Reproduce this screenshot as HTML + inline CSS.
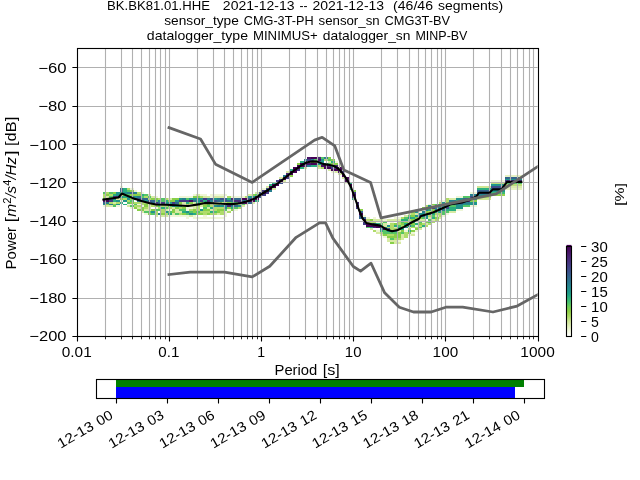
<!DOCTYPE html>
<html><head><meta charset="utf-8"><title>PPSD BK.BK81.01.HHE</title>
<style>html,body{margin:0;padding:0;background:#fff;}body{width:640px;height:480px;overflow:hidden;position:relative;}svg text{font-family:"Liberation Sans",sans-serif;fill:#000;}</style></head>
<body>
<svg width="640" height="480" viewBox="0 0 640 480" style="position:absolute;left:0;top:0;display:block">
<defs><clipPath id="axc"><rect x="76.8" y="48" width="460.8" height="288"/></clipPath>
<linearGradient id="cb" x1="0" y1="1" x2="0" y2="0"><stop offset="0" stop-color="#ffffff"/><stop offset="0.05" stop-color="#f6fae6"/><stop offset="0.1" stop-color="#e6f2c4"/><stop offset="0.17" stop-color="#cfe695"/><stop offset="0.22" stop-color="#aedb68"/><stop offset="0.28" stop-color="#8fd044"/><stop offset="0.33" stop-color="#6ece58"/><stop offset="0.38" stop-color="#4ac16d"/><stop offset="0.42" stop-color="#31b57b"/><stop offset="0.46" stop-color="#21a585"/><stop offset="0.5" stop-color="#1f968b"/><stop offset="0.55" stop-color="#23888e"/><stop offset="0.6" stop-color="#2a788e"/><stop offset="0.67" stop-color="#33638d"/><stop offset="0.72" stop-color="#3b528b"/><stop offset="0.78" stop-color="#424086"/><stop offset="0.83" stop-color="#46327e"/><stop offset="0.9" stop-color="#481f70"/><stop offset="0.95" stop-color="#471063"/><stop offset="1" stop-color="#440154"/></linearGradient></defs>
<rect width="640" height="480" fill="#ffffff"/>
<g shape-rendering="crispEdges">
<rect x="102.5" y="197.76" width="3.47" height="1.92" fill="#54c567"/>
<rect x="102.5" y="199.68" width="3.47" height="1.92" fill="#471265"/>
<rect x="102.5" y="203.52" width="3.47" height="1.92" fill="#20948b"/>
<rect x="102.5" y="201.6" width="3.47" height="1.92" fill="#31688d"/>
<rect x="102.5" y="192" width="3.47" height="1.92" fill="#54c567"/>
<rect x="102.5" y="195.84" width="3.47" height="1.92" fill="#b0dc6a"/>
<rect x="102.5" y="193.92" width="3.47" height="1.92" fill="#b0dc6a"/>
<rect x="102.5" y="205.44" width="3.47" height="1.92" fill="#eff6d7"/>
<rect x="105.97" y="197.76" width="3.47" height="1.92" fill="#31688d"/>
<rect x="105.97" y="199.68" width="3.47" height="1.92" fill="#440154"/>
<rect x="105.97" y="203.52" width="3.47" height="1.92" fill="#88d048"/>
<rect x="105.97" y="193.92" width="3.47" height="1.92" fill="#88d048"/>
<rect x="105.97" y="205.44" width="3.47" height="1.92" fill="#d7eaa4"/>
<rect x="105.97" y="201.6" width="3.47" height="1.92" fill="#277e8e"/>
<rect x="105.97" y="192" width="3.47" height="1.92" fill="#b0dc6a"/>
<rect x="105.97" y="195.84" width="3.47" height="1.92" fill="#d7eaa4"/>
<rect x="109.44" y="195.84" width="3.47" height="1.92" fill="#54c567"/>
<rect x="109.44" y="197.76" width="3.47" height="1.92" fill="#31688d"/>
<rect x="109.44" y="199.68" width="3.47" height="1.92" fill="#433b83"/>
<rect x="109.44" y="203.52" width="3.47" height="1.92" fill="#277e8e"/>
<rect x="109.44" y="193.92" width="3.47" height="1.92" fill="#b0dc6a"/>
<rect x="109.44" y="205.44" width="3.47" height="1.92" fill="#d7eaa4"/>
<rect x="109.44" y="201.6" width="3.47" height="1.92" fill="#b0dc6a"/>
<rect x="109.44" y="192" width="3.47" height="1.92" fill="#54c567"/>
<rect x="112.9" y="192" width="3.47" height="1.92" fill="#88d048"/>
<rect x="112.9" y="197.76" width="3.47" height="1.92" fill="#20948b"/>
<rect x="112.9" y="195.84" width="3.47" height="1.92" fill="#472876"/>
<rect x="112.9" y="193.92" width="3.47" height="1.92" fill="#2aae7f"/>
<rect x="112.9" y="203.52" width="3.47" height="1.92" fill="#88d048"/>
<rect x="112.9" y="201.6" width="3.47" height="1.92" fill="#d7eaa4"/>
<rect x="112.9" y="199.68" width="3.47" height="1.92" fill="#2aae7f"/>
<rect x="112.9" y="205.44" width="3.47" height="1.92" fill="#54c567"/>
<rect x="116.37" y="192" width="3.47" height="1.92" fill="#20948b"/>
<rect x="116.37" y="195.84" width="3.47" height="1.92" fill="#472876"/>
<rect x="116.37" y="197.76" width="3.47" height="1.92" fill="#d7eaa4"/>
<rect x="116.37" y="203.52" width="3.47" height="1.92" fill="#20948b"/>
<rect x="116.37" y="193.92" width="3.47" height="1.92" fill="#20948b"/>
<rect x="116.37" y="205.44" width="3.47" height="1.92" fill="#eff6d7"/>
<rect x="116.37" y="199.68" width="3.47" height="1.92" fill="#20948b"/>
<rect x="116.37" y="201.6" width="3.47" height="1.92" fill="#b0dc6a"/>
<rect x="119.84" y="188.16" width="3.47" height="1.92" fill="#31688d"/>
<rect x="119.84" y="195.84" width="3.47" height="1.92" fill="#20948b"/>
<rect x="119.84" y="193.92" width="3.47" height="1.92" fill="#b0dc6a"/>
<rect x="119.84" y="190.08" width="3.47" height="1.92" fill="#31688d"/>
<rect x="119.84" y="197.76" width="3.47" height="1.92" fill="#88d048"/>
<rect x="119.84" y="192" width="3.47" height="1.92" fill="#2aae7f"/>
<rect x="119.84" y="201.6" width="3.47" height="1.92" fill="#2aae7f"/>
<rect x="119.84" y="199.68" width="3.47" height="1.92" fill="#eff6d7"/>
<rect x="119.84" y="186.24" width="3.47" height="1.92" fill="#eff6d7"/>
<rect x="123.31" y="190.08" width="3.47" height="1.92" fill="#2aae7f"/>
<rect x="123.31" y="195.84" width="3.47" height="1.92" fill="#2aae7f"/>
<rect x="123.31" y="192" width="3.47" height="1.92" fill="#20948b"/>
<rect x="123.31" y="188.16" width="3.47" height="1.92" fill="#2aae7f"/>
<rect x="123.31" y="193.92" width="3.47" height="1.92" fill="#54c567"/>
<rect x="123.31" y="203.52" width="3.47" height="1.92" fill="#2aae7f"/>
<rect x="123.31" y="199.68" width="3.47" height="1.92" fill="#20948b"/>
<rect x="123.31" y="197.76" width="3.47" height="1.92" fill="#b0dc6a"/>
<rect x="126.78" y="192" width="3.47" height="1.92" fill="#277e8e"/>
<rect x="126.78" y="190.08" width="3.47" height="1.92" fill="#54c567"/>
<rect x="126.78" y="197.76" width="3.47" height="1.92" fill="#20948b"/>
<rect x="126.78" y="193.92" width="3.47" height="1.92" fill="#54c567"/>
<rect x="126.78" y="188.16" width="3.47" height="1.92" fill="#b0dc6a"/>
<rect x="126.78" y="195.84" width="3.47" height="1.92" fill="#20948b"/>
<rect x="126.78" y="201.6" width="3.47" height="1.92" fill="#54c567"/>
<rect x="126.78" y="199.68" width="3.47" height="1.92" fill="#b0dc6a"/>
<rect x="126.78" y="205.44" width="3.47" height="1.92" fill="#d7eaa4"/>
<rect x="126.78" y="203.52" width="3.47" height="1.92" fill="#eff6d7"/>
<rect x="130.24" y="192" width="3.47" height="1.92" fill="#31688d"/>
<rect x="130.24" y="195.84" width="3.47" height="1.92" fill="#277e8e"/>
<rect x="130.24" y="190.08" width="3.47" height="1.92" fill="#88d048"/>
<rect x="130.24" y="193.92" width="3.47" height="1.92" fill="#88d048"/>
<rect x="130.24" y="201.6" width="3.47" height="1.92" fill="#88d048"/>
<rect x="130.24" y="205.44" width="3.47" height="1.92" fill="#54c567"/>
<rect x="130.24" y="199.68" width="3.47" height="1.92" fill="#54c567"/>
<rect x="130.24" y="207.36" width="3.47" height="1.92" fill="#eff6d7"/>
<rect x="130.24" y="188.16" width="3.47" height="1.92" fill="#eff6d7"/>
<rect x="130.24" y="197.76" width="3.47" height="1.92" fill="#88d048"/>
<rect x="130.24" y="203.52" width="3.47" height="1.92" fill="#eff6d7"/>
<rect x="133.71" y="195.84" width="3.47" height="1.92" fill="#20948b"/>
<rect x="133.71" y="192" width="3.47" height="1.92" fill="#277e8e"/>
<rect x="133.71" y="205.44" width="3.47" height="1.92" fill="#b0dc6a"/>
<rect x="133.71" y="190.08" width="3.47" height="1.92" fill="#eff6d7"/>
<rect x="133.71" y="197.76" width="3.47" height="1.92" fill="#433b83"/>
<rect x="133.71" y="201.6" width="3.47" height="1.92" fill="#b0dc6a"/>
<rect x="133.71" y="207.36" width="3.47" height="1.92" fill="#88d048"/>
<rect x="133.71" y="203.52" width="3.47" height="1.92" fill="#54c567"/>
<rect x="133.71" y="193.92" width="3.47" height="1.92" fill="#88d048"/>
<rect x="137.18" y="195.84" width="3.47" height="1.92" fill="#277e8e"/>
<rect x="137.18" y="197.76" width="3.47" height="1.92" fill="#3c518b"/>
<rect x="137.18" y="201.6" width="3.47" height="1.92" fill="#b0dc6a"/>
<rect x="137.18" y="193.92" width="3.47" height="1.92" fill="#88d048"/>
<rect x="137.18" y="205.44" width="3.47" height="1.92" fill="#b0dc6a"/>
<rect x="137.18" y="199.68" width="3.47" height="1.92" fill="#277e8e"/>
<rect x="137.18" y="209.28" width="3.47" height="1.92" fill="#88d048"/>
<rect x="137.18" y="207.36" width="3.47" height="1.92" fill="#d7eaa4"/>
<rect x="137.18" y="192" width="3.47" height="1.92" fill="#b0dc6a"/>
<rect x="137.18" y="203.52" width="3.47" height="1.92" fill="#eff6d7"/>
<rect x="140.65" y="197.76" width="3.47" height="1.92" fill="#31688d"/>
<rect x="140.65" y="201.6" width="3.47" height="1.92" fill="#b0dc6a"/>
<rect x="140.65" y="209.28" width="3.47" height="1.92" fill="#88d048"/>
<rect x="140.65" y="193.92" width="3.47" height="1.92" fill="#2aae7f"/>
<rect x="140.65" y="195.84" width="3.47" height="1.92" fill="#54c567"/>
<rect x="140.65" y="199.68" width="3.47" height="1.92" fill="#277e8e"/>
<rect x="140.65" y="207.36" width="3.47" height="1.92" fill="#88d048"/>
<rect x="140.65" y="211.2" width="3.47" height="1.92" fill="#d7eaa4"/>
<rect x="140.65" y="205.44" width="3.47" height="1.92" fill="#eff6d7"/>
<rect x="140.65" y="203.52" width="3.47" height="1.92" fill="#b0dc6a"/>
<rect x="140.65" y="192" width="3.47" height="1.92" fill="#eff6d7"/>
<rect x="144.12" y="199.68" width="3.47" height="1.92" fill="#20948b"/>
<rect x="144.12" y="205.44" width="3.47" height="1.92" fill="#88d048"/>
<rect x="144.12" y="197.76" width="3.47" height="1.92" fill="#31688d"/>
<rect x="144.12" y="193.92" width="3.47" height="1.92" fill="#54c567"/>
<rect x="144.12" y="203.52" width="3.47" height="1.92" fill="#88d048"/>
<rect x="144.12" y="211.2" width="3.47" height="1.92" fill="#54c567"/>
<rect x="144.12" y="207.36" width="3.47" height="1.92" fill="#b0dc6a"/>
<rect x="144.12" y="213.12" width="3.47" height="1.92" fill="#eff6d7"/>
<rect x="144.12" y="209.28" width="3.47" height="1.92" fill="#d7eaa4"/>
<rect x="144.12" y="195.84" width="3.47" height="1.92" fill="#b0dc6a"/>
<rect x="144.12" y="201.6" width="3.47" height="1.92" fill="#b0dc6a"/>
<rect x="147.58" y="201.6" width="3.47" height="1.92" fill="#31688d"/>
<rect x="147.58" y="213.12" width="3.47" height="1.92" fill="#88d048"/>
<rect x="147.58" y="199.68" width="3.47" height="1.92" fill="#3c518b"/>
<rect x="147.58" y="193.92" width="3.47" height="1.92" fill="#d7eaa4"/>
<rect x="147.58" y="197.76" width="3.47" height="1.92" fill="#b0dc6a"/>
<rect x="147.58" y="211.2" width="3.47" height="1.92" fill="#54c567"/>
<rect x="147.58" y="203.52" width="3.47" height="1.92" fill="#d7eaa4"/>
<rect x="147.58" y="205.44" width="3.47" height="1.92" fill="#d7eaa4"/>
<rect x="147.58" y="207.36" width="3.47" height="1.92" fill="#d7eaa4"/>
<rect x="147.58" y="195.84" width="3.47" height="1.92" fill="#54c567"/>
<rect x="147.58" y="209.28" width="3.47" height="1.92" fill="#d7eaa4"/>
<rect x="151.05" y="201.6" width="3.47" height="1.92" fill="#31688d"/>
<rect x="151.05" y="211.2" width="3.47" height="1.92" fill="#20948b"/>
<rect x="151.05" y="213.12" width="3.47" height="1.92" fill="#54c567"/>
<rect x="151.05" y="197.76" width="3.47" height="1.92" fill="#88d048"/>
<rect x="151.05" y="203.52" width="3.47" height="1.92" fill="#b0dc6a"/>
<rect x="151.05" y="209.28" width="3.47" height="1.92" fill="#88d048"/>
<rect x="151.05" y="199.68" width="3.47" height="1.92" fill="#31688d"/>
<rect x="151.05" y="195.84" width="3.47" height="1.92" fill="#d7eaa4"/>
<rect x="151.05" y="205.44" width="3.47" height="1.92" fill="#b0dc6a"/>
<rect x="154.52" y="201.6" width="3.47" height="1.92" fill="#433b83"/>
<rect x="154.52" y="211.2" width="3.47" height="1.92" fill="#b0dc6a"/>
<rect x="154.52" y="215.04" width="3.47" height="1.92" fill="#d7eaa4"/>
<rect x="154.52" y="203.52" width="3.47" height="1.92" fill="#20948b"/>
<rect x="154.52" y="199.68" width="3.47" height="1.92" fill="#54c567"/>
<rect x="154.52" y="209.28" width="3.47" height="1.92" fill="#54c567"/>
<rect x="154.52" y="213.12" width="3.47" height="1.92" fill="#b0dc6a"/>
<rect x="154.52" y="205.44" width="3.47" height="1.92" fill="#88d048"/>
<rect x="154.52" y="195.84" width="3.47" height="1.92" fill="#eff6d7"/>
<rect x="154.52" y="207.36" width="3.47" height="1.92" fill="#eff6d7"/>
<rect x="154.52" y="197.76" width="3.47" height="1.92" fill="#88d048"/>
<rect x="157.99" y="203.52" width="3.47" height="1.92" fill="#54c567"/>
<rect x="157.99" y="213.12" width="3.47" height="1.92" fill="#277e8e"/>
<rect x="157.99" y="201.6" width="3.47" height="1.92" fill="#31688d"/>
<rect x="157.99" y="209.28" width="3.47" height="1.92" fill="#54c567"/>
<rect x="157.99" y="207.36" width="3.47" height="1.92" fill="#b0dc6a"/>
<rect x="157.99" y="199.68" width="3.47" height="1.92" fill="#277e8e"/>
<rect x="157.99" y="205.44" width="3.47" height="1.92" fill="#54c567"/>
<rect x="157.99" y="197.76" width="3.47" height="1.92" fill="#b0dc6a"/>
<rect x="161.46" y="203.52" width="3.47" height="1.92" fill="#88d048"/>
<rect x="161.46" y="213.12" width="3.47" height="1.92" fill="#88d048"/>
<rect x="161.46" y="201.6" width="3.47" height="1.92" fill="#433b83"/>
<rect x="161.46" y="209.28" width="3.47" height="1.92" fill="#b0dc6a"/>
<rect x="161.46" y="215.04" width="3.47" height="1.92" fill="#d7eaa4"/>
<rect x="161.46" y="207.36" width="3.47" height="1.92" fill="#2aae7f"/>
<rect x="161.46" y="199.68" width="3.47" height="1.92" fill="#54c567"/>
<rect x="161.46" y="197.76" width="3.47" height="1.92" fill="#54c567"/>
<rect x="161.46" y="211.2" width="3.47" height="1.92" fill="#b0dc6a"/>
<rect x="161.46" y="205.44" width="3.47" height="1.92" fill="#b0dc6a"/>
<rect x="164.92" y="205.44" width="3.47" height="1.92" fill="#b0dc6a"/>
<rect x="164.92" y="213.12" width="3.47" height="1.92" fill="#b0dc6a"/>
<rect x="164.92" y="211.2" width="3.47" height="1.92" fill="#20948b"/>
<rect x="164.92" y="201.6" width="3.47" height="1.92" fill="#20948b"/>
<rect x="164.92" y="203.52" width="3.47" height="1.92" fill="#277e8e"/>
<rect x="164.92" y="209.28" width="3.47" height="1.92" fill="#d7eaa4"/>
<rect x="164.92" y="215.04" width="3.47" height="1.92" fill="#d7eaa4"/>
<rect x="164.92" y="199.68" width="3.47" height="1.92" fill="#2aae7f"/>
<rect x="164.92" y="207.36" width="3.47" height="1.92" fill="#54c567"/>
<rect x="164.92" y="197.76" width="3.47" height="1.92" fill="#b0dc6a"/>
<rect x="168.39" y="209.28" width="3.47" height="1.92" fill="#eff6d7"/>
<rect x="168.39" y="213.12" width="3.47" height="1.92" fill="#2aae7f"/>
<rect x="168.39" y="205.44" width="3.47" height="1.92" fill="#54c567"/>
<rect x="168.39" y="203.52" width="3.47" height="1.92" fill="#472876"/>
<rect x="168.39" y="211.2" width="3.47" height="1.92" fill="#54c567"/>
<rect x="168.39" y="215.04" width="3.47" height="1.92" fill="#eff6d7"/>
<rect x="168.39" y="201.6" width="3.47" height="1.92" fill="#20948b"/>
<rect x="168.39" y="207.36" width="3.47" height="1.92" fill="#b0dc6a"/>
<rect x="168.39" y="199.68" width="3.47" height="1.92" fill="#88d048"/>
<rect x="168.39" y="197.76" width="3.47" height="1.92" fill="#d7eaa4"/>
<rect x="171.86" y="207.36" width="3.47" height="1.92" fill="#d7eaa4"/>
<rect x="171.86" y="211.2" width="3.47" height="1.92" fill="#88d048"/>
<rect x="171.86" y="209.28" width="3.47" height="1.92" fill="#88d048"/>
<rect x="171.86" y="205.44" width="3.47" height="1.92" fill="#20948b"/>
<rect x="171.86" y="203.52" width="3.47" height="1.92" fill="#20948b"/>
<rect x="171.86" y="213.12" width="3.47" height="1.92" fill="#d7eaa4"/>
<rect x="171.86" y="215.04" width="3.47" height="1.92" fill="#eff6d7"/>
<rect x="171.86" y="201.6" width="3.47" height="1.92" fill="#433b83"/>
<rect x="171.86" y="199.68" width="3.47" height="1.92" fill="#88d048"/>
<rect x="171.86" y="197.76" width="3.47" height="1.92" fill="#88d048"/>
<rect x="175.33" y="205.44" width="3.47" height="1.92" fill="#2aae7f"/>
<rect x="175.33" y="213.12" width="3.47" height="1.92" fill="#54c567"/>
<rect x="175.33" y="211.2" width="3.47" height="1.92" fill="#d7eaa4"/>
<rect x="175.33" y="203.52" width="3.47" height="1.92" fill="#2aae7f"/>
<rect x="175.33" y="215.04" width="3.47" height="1.92" fill="#eff6d7"/>
<rect x="175.33" y="199.68" width="3.47" height="1.92" fill="#20948b"/>
<rect x="175.33" y="209.28" width="3.47" height="1.92" fill="#d7eaa4"/>
<rect x="175.33" y="207.36" width="3.47" height="1.92" fill="#88d048"/>
<rect x="175.33" y="201.6" width="3.47" height="1.92" fill="#31688d"/>
<rect x="175.33" y="197.76" width="3.47" height="1.92" fill="#88d048"/>
<rect x="178.8" y="199.68" width="3.47" height="1.92" fill="#433b83"/>
<rect x="178.8" y="213.12" width="3.47" height="1.92" fill="#b0dc6a"/>
<rect x="178.8" y="203.52" width="3.47" height="1.92" fill="#b0dc6a"/>
<rect x="178.8" y="201.6" width="3.47" height="1.92" fill="#88d048"/>
<rect x="178.8" y="207.36" width="3.47" height="1.92" fill="#b0dc6a"/>
<rect x="178.8" y="215.04" width="3.47" height="1.92" fill="#eff6d7"/>
<rect x="178.8" y="205.44" width="3.47" height="1.92" fill="#2aae7f"/>
<rect x="178.8" y="209.28" width="3.47" height="1.92" fill="#54c567"/>
<rect x="178.8" y="197.76" width="3.47" height="1.92" fill="#20948b"/>
<rect x="178.8" y="211.2" width="3.47" height="1.92" fill="#d7eaa4"/>
<rect x="178.8" y="195.84" width="3.47" height="1.92" fill="#eff6d7"/>
<rect x="182.26" y="199.68" width="3.47" height="1.92" fill="#433b83"/>
<rect x="182.26" y="211.2" width="3.47" height="1.92" fill="#2aae7f"/>
<rect x="182.26" y="209.28" width="3.47" height="1.92" fill="#54c567"/>
<rect x="182.26" y="205.44" width="3.47" height="1.92" fill="#b0dc6a"/>
<rect x="182.26" y="215.04" width="3.47" height="1.92" fill="#eff6d7"/>
<rect x="182.26" y="213.12" width="3.47" height="1.92" fill="#88d048"/>
<rect x="182.26" y="203.52" width="3.47" height="1.92" fill="#eff6d7"/>
<rect x="182.26" y="197.76" width="3.47" height="1.92" fill="#277e8e"/>
<rect x="182.26" y="201.6" width="3.47" height="1.92" fill="#d7eaa4"/>
<rect x="182.26" y="207.36" width="3.47" height="1.92" fill="#88d048"/>
<rect x="182.26" y="195.84" width="3.47" height="1.92" fill="#eff6d7"/>
<rect x="185.73" y="201.6" width="3.47" height="1.92" fill="#2aae7f"/>
<rect x="185.73" y="215.04" width="3.47" height="1.92" fill="#eff6d7"/>
<rect x="185.73" y="203.52" width="3.47" height="1.92" fill="#b0dc6a"/>
<rect x="185.73" y="199.68" width="3.47" height="1.92" fill="#433b83"/>
<rect x="185.73" y="205.44" width="3.47" height="1.92" fill="#88d048"/>
<rect x="185.73" y="216.96" width="3.47" height="1.92" fill="#eff6d7"/>
<rect x="185.73" y="213.12" width="3.47" height="1.92" fill="#54c567"/>
<rect x="185.73" y="211.2" width="3.47" height="1.92" fill="#20948b"/>
<rect x="185.73" y="197.76" width="3.47" height="1.92" fill="#54c567"/>
<rect x="185.73" y="195.84" width="3.47" height="1.92" fill="#eff6d7"/>
<rect x="185.73" y="209.28" width="3.47" height="1.92" fill="#eff6d7"/>
<rect x="185.73" y="207.36" width="3.47" height="1.92" fill="#eff6d7"/>
<rect x="189.2" y="201.6" width="3.47" height="1.92" fill="#88d048"/>
<rect x="189.2" y="215.04" width="3.47" height="1.92" fill="#d7eaa4"/>
<rect x="189.2" y="199.68" width="3.47" height="1.92" fill="#471265"/>
<rect x="189.2" y="203.52" width="3.47" height="1.92" fill="#eff6d7"/>
<rect x="189.2" y="213.12" width="3.47" height="1.92" fill="#20948b"/>
<rect x="189.2" y="211.2" width="3.47" height="1.92" fill="#54c567"/>
<rect x="189.2" y="205.44" width="3.47" height="1.92" fill="#d7eaa4"/>
<rect x="189.2" y="197.76" width="3.47" height="1.92" fill="#20948b"/>
<rect x="189.2" y="209.28" width="3.47" height="1.92" fill="#b0dc6a"/>
<rect x="189.2" y="195.84" width="3.47" height="1.92" fill="#eff6d7"/>
<rect x="189.2" y="207.36" width="3.47" height="1.92" fill="#eff6d7"/>
<rect x="192.67" y="199.68" width="3.47" height="1.92" fill="#31688d"/>
<rect x="192.67" y="215.04" width="3.47" height="1.92" fill="#eff6d7"/>
<rect x="192.67" y="207.36" width="3.47" height="1.92" fill="#d7eaa4"/>
<rect x="192.67" y="205.44" width="3.47" height="1.92" fill="#d7eaa4"/>
<rect x="192.67" y="216.96" width="3.47" height="1.92" fill="#eff6d7"/>
<rect x="192.67" y="213.12" width="3.47" height="1.92" fill="#2aae7f"/>
<rect x="192.67" y="211.2" width="3.47" height="1.92" fill="#88d048"/>
<rect x="192.67" y="203.52" width="3.47" height="1.92" fill="#b0dc6a"/>
<rect x="192.67" y="197.76" width="3.47" height="1.92" fill="#20948b"/>
<rect x="192.67" y="195.84" width="3.47" height="1.92" fill="#88d048"/>
<rect x="192.67" y="201.6" width="3.47" height="1.92" fill="#d7eaa4"/>
<rect x="192.67" y="193.92" width="3.47" height="1.92" fill="#eff6d7"/>
<rect x="192.67" y="209.28" width="3.47" height="1.92" fill="#88d048"/>
<rect x="196.14" y="199.68" width="3.47" height="1.92" fill="#20948b"/>
<rect x="196.14" y="213.12" width="3.47" height="1.92" fill="#88d048"/>
<rect x="196.14" y="201.6" width="3.47" height="1.92" fill="#2aae7f"/>
<rect x="196.14" y="205.44" width="3.47" height="1.92" fill="#b0dc6a"/>
<rect x="196.14" y="216.96" width="3.47" height="1.92" fill="#eff6d7"/>
<rect x="196.14" y="209.28" width="3.47" height="1.92" fill="#b0dc6a"/>
<rect x="196.14" y="203.52" width="3.47" height="1.92" fill="#eff6d7"/>
<rect x="196.14" y="211.2" width="3.47" height="1.92" fill="#54c567"/>
<rect x="196.14" y="193.92" width="3.47" height="1.92" fill="#d7eaa4"/>
<rect x="196.14" y="195.84" width="3.47" height="1.92" fill="#88d048"/>
<rect x="196.14" y="197.76" width="3.47" height="1.92" fill="#20948b"/>
<rect x="196.14" y="207.36" width="3.47" height="1.92" fill="#b0dc6a"/>
<rect x="199.6" y="199.68" width="3.47" height="1.92" fill="#433b83"/>
<rect x="199.6" y="213.12" width="3.47" height="1.92" fill="#88d048"/>
<rect x="199.6" y="203.52" width="3.47" height="1.92" fill="#b0dc6a"/>
<rect x="199.6" y="216.96" width="3.47" height="1.92" fill="#eff6d7"/>
<rect x="199.6" y="209.28" width="3.47" height="1.92" fill="#20948b"/>
<rect x="199.6" y="211.2" width="3.47" height="1.92" fill="#b0dc6a"/>
<rect x="199.6" y="205.44" width="3.47" height="1.92" fill="#d7eaa4"/>
<rect x="199.6" y="197.76" width="3.47" height="1.92" fill="#20948b"/>
<rect x="199.6" y="195.84" width="3.47" height="1.92" fill="#b0dc6a"/>
<rect x="199.6" y="201.6" width="3.47" height="1.92" fill="#88d048"/>
<rect x="199.6" y="193.92" width="3.47" height="1.92" fill="#eff6d7"/>
<rect x="203.07" y="197.76" width="3.47" height="1.92" fill="#433b83"/>
<rect x="203.07" y="213.12" width="3.47" height="1.92" fill="#b0dc6a"/>
<rect x="203.07" y="199.68" width="3.47" height="1.92" fill="#2aae7f"/>
<rect x="203.07" y="216.96" width="3.47" height="1.92" fill="#eff6d7"/>
<rect x="203.07" y="209.28" width="3.47" height="1.92" fill="#88d048"/>
<rect x="203.07" y="211.2" width="3.47" height="1.92" fill="#b0dc6a"/>
<rect x="203.07" y="207.36" width="3.47" height="1.92" fill="#54c567"/>
<rect x="203.07" y="203.52" width="3.47" height="1.92" fill="#b0dc6a"/>
<rect x="203.07" y="201.6" width="3.47" height="1.92" fill="#d7eaa4"/>
<rect x="203.07" y="205.44" width="3.47" height="1.92" fill="#88d048"/>
<rect x="203.07" y="215.04" width="3.47" height="1.92" fill="#eff6d7"/>
<rect x="203.07" y="195.84" width="3.47" height="1.92" fill="#d7eaa4"/>
<rect x="203.07" y="193.92" width="3.47" height="1.92" fill="#eff6d7"/>
<rect x="206.54" y="199.68" width="3.47" height="1.92" fill="#472876"/>
<rect x="206.54" y="213.12" width="3.47" height="1.92" fill="#88d048"/>
<rect x="206.54" y="216.96" width="3.47" height="1.92" fill="#eff6d7"/>
<rect x="206.54" y="207.36" width="3.47" height="1.92" fill="#d7eaa4"/>
<rect x="206.54" y="211.2" width="3.47" height="1.92" fill="#b0dc6a"/>
<rect x="206.54" y="209.28" width="3.47" height="1.92" fill="#88d048"/>
<rect x="206.54" y="203.52" width="3.47" height="1.92" fill="#88d048"/>
<rect x="206.54" y="197.76" width="3.47" height="1.92" fill="#277e8e"/>
<rect x="206.54" y="205.44" width="3.47" height="1.92" fill="#54c567"/>
<rect x="206.54" y="201.6" width="3.47" height="1.92" fill="#eff6d7"/>
<rect x="206.54" y="195.84" width="3.47" height="1.92" fill="#d7eaa4"/>
<rect x="210.01" y="199.68" width="3.47" height="1.92" fill="#277e8e"/>
<rect x="210.01" y="213.12" width="3.47" height="1.92" fill="#b0dc6a"/>
<rect x="210.01" y="197.76" width="3.47" height="1.92" fill="#3c518b"/>
<rect x="210.01" y="216.96" width="3.47" height="1.92" fill="#eff6d7"/>
<rect x="210.01" y="207.36" width="3.47" height="1.92" fill="#2aae7f"/>
<rect x="210.01" y="211.2" width="3.47" height="1.92" fill="#2aae7f"/>
<rect x="210.01" y="203.52" width="3.47" height="1.92" fill="#d7eaa4"/>
<rect x="210.01" y="201.6" width="3.47" height="1.92" fill="#b0dc6a"/>
<rect x="210.01" y="205.44" width="3.47" height="1.92" fill="#b0dc6a"/>
<rect x="210.01" y="195.84" width="3.47" height="1.92" fill="#eff6d7"/>
<rect x="210.01" y="193.92" width="3.47" height="1.92" fill="#eff6d7"/>
<rect x="210.01" y="209.28" width="3.47" height="1.92" fill="#d7eaa4"/>
<rect x="213.48" y="197.76" width="3.47" height="1.92" fill="#20948b"/>
<rect x="213.48" y="213.12" width="3.47" height="1.92" fill="#b0dc6a"/>
<rect x="213.48" y="201.6" width="3.47" height="1.92" fill="#eff6d7"/>
<rect x="213.48" y="195.84" width="3.47" height="1.92" fill="#d7eaa4"/>
<rect x="213.48" y="216.96" width="3.47" height="1.92" fill="#eff6d7"/>
<rect x="213.48" y="199.68" width="3.47" height="1.92" fill="#3c518b"/>
<rect x="213.48" y="207.36" width="3.47" height="1.92" fill="#b0dc6a"/>
<rect x="213.48" y="209.28" width="3.47" height="1.92" fill="#b0dc6a"/>
<rect x="213.48" y="211.2" width="3.47" height="1.92" fill="#54c567"/>
<rect x="213.48" y="203.52" width="3.47" height="1.92" fill="#b0dc6a"/>
<rect x="213.48" y="205.44" width="3.47" height="1.92" fill="#20948b"/>
<rect x="213.48" y="193.92" width="3.47" height="1.92" fill="#eff6d7"/>
<rect x="216.94" y="199.68" width="3.47" height="1.92" fill="#31688d"/>
<rect x="216.94" y="213.12" width="3.47" height="1.92" fill="#d7eaa4"/>
<rect x="216.94" y="201.6" width="3.47" height="1.92" fill="#eff6d7"/>
<rect x="216.94" y="197.76" width="3.47" height="1.92" fill="#277e8e"/>
<rect x="216.94" y="195.84" width="3.47" height="1.92" fill="#d7eaa4"/>
<rect x="216.94" y="216.96" width="3.47" height="1.92" fill="#eff6d7"/>
<rect x="216.94" y="205.44" width="3.47" height="1.92" fill="#277e8e"/>
<rect x="216.94" y="209.28" width="3.47" height="1.92" fill="#88d048"/>
<rect x="216.94" y="207.36" width="3.47" height="1.92" fill="#b0dc6a"/>
<rect x="216.94" y="211.2" width="3.47" height="1.92" fill="#88d048"/>
<rect x="216.94" y="203.52" width="3.47" height="1.92" fill="#b0dc6a"/>
<rect x="216.94" y="193.92" width="3.47" height="1.92" fill="#eff6d7"/>
<rect x="220.41" y="197.76" width="3.47" height="1.92" fill="#3c518b"/>
<rect x="220.41" y="213.12" width="3.47" height="1.92" fill="#b0dc6a"/>
<rect x="220.41" y="201.6" width="3.47" height="1.92" fill="#b0dc6a"/>
<rect x="220.41" y="195.84" width="3.47" height="1.92" fill="#d7eaa4"/>
<rect x="220.41" y="216.96" width="3.47" height="1.92" fill="#eff6d7"/>
<rect x="220.41" y="199.68" width="3.47" height="1.92" fill="#277e8e"/>
<rect x="220.41" y="207.36" width="3.47" height="1.92" fill="#b0dc6a"/>
<rect x="220.41" y="211.2" width="3.47" height="1.92" fill="#b0dc6a"/>
<rect x="220.41" y="209.28" width="3.47" height="1.92" fill="#88d048"/>
<rect x="220.41" y="205.44" width="3.47" height="1.92" fill="#20948b"/>
<rect x="220.41" y="193.92" width="3.47" height="1.92" fill="#eff6d7"/>
<rect x="220.41" y="203.52" width="3.47" height="1.92" fill="#eff6d7"/>
<rect x="223.88" y="197.76" width="3.47" height="1.92" fill="#31688d"/>
<rect x="223.88" y="211.2" width="3.47" height="1.92" fill="#eff6d7"/>
<rect x="223.88" y="201.6" width="3.47" height="1.92" fill="#b0dc6a"/>
<rect x="223.88" y="199.68" width="3.47" height="1.92" fill="#3c518b"/>
<rect x="223.88" y="215.04" width="3.47" height="1.92" fill="#eff6d7"/>
<rect x="223.88" y="205.44" width="3.47" height="1.92" fill="#277e8e"/>
<rect x="223.88" y="209.28" width="3.47" height="1.92" fill="#54c567"/>
<rect x="223.88" y="207.36" width="3.47" height="1.92" fill="#20948b"/>
<rect x="223.88" y="213.12" width="3.47" height="1.92" fill="#eff6d7"/>
<rect x="223.88" y="193.92" width="3.47" height="1.92" fill="#eff6d7"/>
<rect x="227.35" y="199.68" width="3.47" height="1.92" fill="#31688d"/>
<rect x="227.35" y="211.2" width="3.47" height="1.92" fill="#b0dc6a"/>
<rect x="227.35" y="201.6" width="3.47" height="1.92" fill="#88d048"/>
<rect x="227.35" y="195.84" width="3.47" height="1.92" fill="#b0dc6a"/>
<rect x="227.35" y="197.76" width="3.47" height="1.92" fill="#2aae7f"/>
<rect x="227.35" y="205.44" width="3.47" height="1.92" fill="#472876"/>
<rect x="227.35" y="207.36" width="3.47" height="1.92" fill="#88d048"/>
<rect x="227.35" y="203.52" width="3.47" height="1.92" fill="#88d048"/>
<rect x="227.35" y="209.28" width="3.47" height="1.92" fill="#eff6d7"/>
<rect x="230.82" y="197.76" width="3.47" height="1.92" fill="#472876"/>
<rect x="230.82" y="209.28" width="3.47" height="1.92" fill="#88d048"/>
<rect x="230.82" y="201.6" width="3.47" height="1.92" fill="#54c567"/>
<rect x="230.82" y="203.52" width="3.47" height="1.92" fill="#eff6d7"/>
<rect x="230.82" y="199.68" width="3.47" height="1.92" fill="#31688d"/>
<rect x="230.82" y="205.44" width="3.47" height="1.92" fill="#277e8e"/>
<rect x="230.82" y="207.36" width="3.47" height="1.92" fill="#2aae7f"/>
<rect x="230.82" y="195.84" width="3.47" height="1.92" fill="#eff6d7"/>
<rect x="234.28" y="199.68" width="3.47" height="1.92" fill="#472876"/>
<rect x="234.28" y="207.36" width="3.47" height="1.92" fill="#54c567"/>
<rect x="234.28" y="201.6" width="3.47" height="1.92" fill="#54c567"/>
<rect x="234.28" y="197.76" width="3.47" height="1.92" fill="#31688d"/>
<rect x="234.28" y="205.44" width="3.47" height="1.92" fill="#31688d"/>
<rect x="234.28" y="209.28" width="3.47" height="1.92" fill="#eff6d7"/>
<rect x="234.28" y="203.52" width="3.47" height="1.92" fill="#88d048"/>
<rect x="234.28" y="195.84" width="3.47" height="1.92" fill="#eff6d7"/>
<rect x="237.75" y="199.68" width="3.47" height="1.92" fill="#472876"/>
<rect x="237.75" y="207.36" width="3.47" height="1.92" fill="#b0dc6a"/>
<rect x="237.75" y="197.76" width="3.47" height="1.92" fill="#31688d"/>
<rect x="237.75" y="201.6" width="3.47" height="1.92" fill="#472876"/>
<rect x="237.75" y="203.52" width="3.47" height="1.92" fill="#d7eaa4"/>
<rect x="237.75" y="205.44" width="3.47" height="1.92" fill="#20948b"/>
<rect x="237.75" y="195.84" width="3.47" height="1.92" fill="#eff6d7"/>
<rect x="241.22" y="201.6" width="3.47" height="1.92" fill="#471265"/>
<rect x="241.22" y="205.44" width="3.47" height="1.92" fill="#d7eaa4"/>
<rect x="241.22" y="197.76" width="3.47" height="1.92" fill="#440154"/>
<rect x="241.22" y="203.52" width="3.47" height="1.92" fill="#54c567"/>
<rect x="241.22" y="199.68" width="3.47" height="1.92" fill="#31688d"/>
<rect x="241.22" y="195.84" width="3.47" height="1.92" fill="#eff6d7"/>
<rect x="244.69" y="201.6" width="3.47" height="1.92" fill="#440154"/>
<rect x="244.69" y="203.52" width="3.47" height="1.92" fill="#d7eaa4"/>
<rect x="244.69" y="197.76" width="3.47" height="1.92" fill="#440154"/>
<rect x="244.69" y="199.68" width="3.47" height="1.92" fill="#20948b"/>
<rect x="244.69" y="195.84" width="3.47" height="1.92" fill="#b0dc6a"/>
<rect x="248.16" y="201.6" width="3.47" height="1.92" fill="#31688d"/>
<rect x="248.16" y="199.68" width="3.47" height="1.92" fill="#440154"/>
<rect x="248.16" y="197.76" width="3.47" height="1.92" fill="#3c518b"/>
<rect x="248.16" y="195.84" width="3.47" height="1.92" fill="#20948b"/>
<rect x="248.16" y="193.92" width="3.47" height="1.92" fill="#d7eaa4"/>
<rect x="251.62" y="199.68" width="3.47" height="1.92" fill="#440154"/>
<rect x="251.62" y="201.6" width="3.47" height="1.92" fill="#d7eaa4"/>
<rect x="251.62" y="197.76" width="3.47" height="1.92" fill="#440154"/>
<rect x="251.62" y="195.84" width="3.47" height="1.92" fill="#20948b"/>
<rect x="251.62" y="193.92" width="3.47" height="1.92" fill="#88d048"/>
<rect x="255.09" y="199.68" width="3.47" height="1.92" fill="#2aae7f"/>
<rect x="255.09" y="197.76" width="3.47" height="1.92" fill="#440154"/>
<rect x="255.09" y="195.84" width="3.47" height="1.92" fill="#440154"/>
<rect x="255.09" y="192" width="3.47" height="1.92" fill="#d7eaa4"/>
<rect x="255.09" y="193.92" width="3.47" height="1.92" fill="#54c567"/>
<rect x="258.56" y="195.84" width="3.47" height="1.92" fill="#3c518b"/>
<rect x="258.56" y="193.92" width="3.47" height="1.92" fill="#440154"/>
<rect x="258.56" y="192" width="3.47" height="1.92" fill="#3c518b"/>
<rect x="258.56" y="190.08" width="3.47" height="1.92" fill="#eff6d7"/>
<rect x="262.03" y="193.92" width="3.47" height="1.92" fill="#433b83"/>
<rect x="262.03" y="192" width="3.47" height="1.92" fill="#440154"/>
<rect x="262.03" y="190.08" width="3.47" height="1.92" fill="#433b83"/>
<rect x="262.03" y="188.16" width="3.47" height="1.92" fill="#eff6d7"/>
<rect x="265.5" y="192" width="3.47" height="1.92" fill="#433b83"/>
<rect x="265.5" y="190.08" width="3.47" height="1.92" fill="#440154"/>
<rect x="265.5" y="186.24" width="3.47" height="1.92" fill="#d7eaa4"/>
<rect x="265.5" y="188.16" width="3.47" height="1.92" fill="#3c518b"/>
<rect x="268.96" y="190.08" width="3.47" height="1.92" fill="#277e8e"/>
<rect x="268.96" y="188.16" width="3.47" height="1.92" fill="#440154"/>
<rect x="268.96" y="186.24" width="3.47" height="1.92" fill="#440154"/>
<rect x="268.96" y="184.32" width="3.47" height="1.92" fill="#2aae7f"/>
<rect x="272.43" y="188.16" width="3.47" height="1.92" fill="#d7eaa4"/>
<rect x="272.43" y="186.24" width="3.47" height="1.92" fill="#440154"/>
<rect x="272.43" y="184.32" width="3.47" height="1.92" fill="#440154"/>
<rect x="272.43" y="182.4" width="3.47" height="1.92" fill="#2aae7f"/>
<rect x="275.9" y="184.32" width="3.47" height="1.92" fill="#440154"/>
<rect x="275.9" y="182.4" width="3.47" height="1.92" fill="#440154"/>
<rect x="275.9" y="180.48" width="3.47" height="1.92" fill="#433b83"/>
<rect x="279.37" y="182.4" width="3.47" height="1.92" fill="#3c518b"/>
<rect x="279.37" y="180.48" width="3.47" height="1.92" fill="#440154"/>
<rect x="279.37" y="178.56" width="3.47" height="1.92" fill="#433b83"/>
<rect x="279.37" y="176.64" width="3.47" height="1.92" fill="#d7eaa4"/>
<rect x="282.84" y="178.56" width="3.47" height="1.92" fill="#440154"/>
<rect x="282.84" y="180.48" width="3.47" height="1.92" fill="#d7eaa4"/>
<rect x="282.84" y="176.64" width="3.47" height="1.92" fill="#440154"/>
<rect x="282.84" y="174.72" width="3.47" height="1.92" fill="#277e8e"/>
<rect x="286.3" y="176.64" width="3.47" height="1.92" fill="#433b83"/>
<rect x="286.3" y="174.72" width="3.47" height="1.92" fill="#440154"/>
<rect x="286.3" y="172.8" width="3.47" height="1.92" fill="#472876"/>
<rect x="286.3" y="170.88" width="3.47" height="1.92" fill="#d7eaa4"/>
<rect x="289.77" y="172.8" width="3.47" height="1.92" fill="#440154"/>
<rect x="289.77" y="174.72" width="3.47" height="1.92" fill="#88d048"/>
<rect x="289.77" y="170.88" width="3.47" height="1.92" fill="#440154"/>
<rect x="289.77" y="168.96" width="3.47" height="1.92" fill="#2aae7f"/>
<rect x="293.24" y="170.88" width="3.47" height="1.92" fill="#440154"/>
<rect x="293.24" y="168.96" width="3.47" height="1.92" fill="#440154"/>
<rect x="293.24" y="167.04" width="3.47" height="1.92" fill="#440154"/>
<rect x="296.71" y="168.96" width="3.47" height="1.92" fill="#433b83"/>
<rect x="296.71" y="167.04" width="3.47" height="1.92" fill="#440154"/>
<rect x="296.71" y="165.12" width="3.47" height="1.92" fill="#440154"/>
<rect x="296.71" y="163.2" width="3.47" height="1.92" fill="#88d048"/>
<rect x="300.18" y="165.12" width="3.47" height="1.92" fill="#440154"/>
<rect x="300.18" y="167.04" width="3.47" height="1.92" fill="#2aae7f"/>
<rect x="300.18" y="163.2" width="3.47" height="1.92" fill="#440154"/>
<rect x="300.18" y="161.28" width="3.47" height="1.92" fill="#2aae7f"/>
<rect x="303.64" y="163.2" width="3.47" height="1.92" fill="#471265"/>
<rect x="303.64" y="165.12" width="3.47" height="1.92" fill="#472876"/>
<rect x="303.64" y="161.28" width="3.47" height="1.92" fill="#433b83"/>
<rect x="303.64" y="159.36" width="3.47" height="1.92" fill="#277e8e"/>
<rect x="303.64" y="167.04" width="3.47" height="1.92" fill="#d7eaa4"/>
<rect x="307.11" y="159.36" width="3.47" height="1.92" fill="#433b83"/>
<rect x="307.11" y="165.12" width="3.47" height="1.92" fill="#277e8e"/>
<rect x="307.11" y="157.44" width="3.47" height="1.92" fill="#471265"/>
<rect x="307.11" y="163.2" width="3.47" height="1.92" fill="#471265"/>
<rect x="307.11" y="161.28" width="3.47" height="1.92" fill="#eff6d7"/>
<rect x="310.58" y="159.36" width="3.47" height="1.92" fill="#277e8e"/>
<rect x="310.58" y="165.12" width="3.47" height="1.92" fill="#2aae7f"/>
<rect x="310.58" y="157.44" width="3.47" height="1.92" fill="#440154"/>
<rect x="310.58" y="163.2" width="3.47" height="1.92" fill="#440154"/>
<rect x="310.58" y="161.28" width="3.47" height="1.92" fill="#88d048"/>
<rect x="314.05" y="157.44" width="3.47" height="1.92" fill="#440154"/>
<rect x="314.05" y="165.12" width="3.47" height="1.92" fill="#2aae7f"/>
<rect x="314.05" y="161.28" width="3.47" height="1.92" fill="#b0dc6a"/>
<rect x="314.05" y="163.2" width="3.47" height="1.92" fill="#440154"/>
<rect x="314.05" y="159.36" width="3.47" height="1.92" fill="#54c567"/>
<rect x="317.52" y="157.44" width="3.47" height="1.92" fill="#472876"/>
<rect x="317.52" y="163.2" width="3.47" height="1.92" fill="#20948b"/>
<rect x="317.52" y="161.28" width="3.47" height="1.92" fill="#277e8e"/>
<rect x="317.52" y="159.36" width="3.47" height="1.92" fill="#471265"/>
<rect x="317.52" y="167.04" width="3.47" height="1.92" fill="#d7eaa4"/>
<rect x="317.52" y="165.12" width="3.47" height="1.92" fill="#b0dc6a"/>
<rect x="317.52" y="155.52" width="3.47" height="1.92" fill="#eff6d7"/>
<rect x="320.98" y="161.28" width="3.47" height="1.92" fill="#20948b"/>
<rect x="320.98" y="163.2" width="3.47" height="1.92" fill="#433b83"/>
<rect x="320.98" y="159.36" width="3.47" height="1.92" fill="#20948b"/>
<rect x="320.98" y="165.12" width="3.47" height="1.92" fill="#471265"/>
<rect x="320.98" y="167.04" width="3.47" height="1.92" fill="#b0dc6a"/>
<rect x="320.98" y="157.44" width="3.47" height="1.92" fill="#54c567"/>
<rect x="324.45" y="163.2" width="3.47" height="1.92" fill="#2aae7f"/>
<rect x="324.45" y="167.04" width="3.47" height="1.92" fill="#440154"/>
<rect x="324.45" y="157.44" width="3.47" height="1.92" fill="#277e8e"/>
<rect x="324.45" y="159.36" width="3.47" height="1.92" fill="#b0dc6a"/>
<rect x="324.45" y="165.12" width="3.47" height="1.92" fill="#440154"/>
<rect x="327.92" y="165.12" width="3.47" height="1.92" fill="#472876"/>
<rect x="327.92" y="167.04" width="3.47" height="1.92" fill="#440154"/>
<rect x="327.92" y="159.36" width="3.47" height="1.92" fill="#54c567"/>
<rect x="327.92" y="163.2" width="3.47" height="1.92" fill="#54c567"/>
<rect x="327.92" y="168.96" width="3.47" height="1.92" fill="#d7eaa4"/>
<rect x="327.92" y="157.44" width="3.47" height="1.92" fill="#88d048"/>
<rect x="327.92" y="161.28" width="3.47" height="1.92" fill="#d7eaa4"/>
<rect x="331.39" y="165.12" width="3.47" height="1.92" fill="#2aae7f"/>
<rect x="331.39" y="168.96" width="3.47" height="1.92" fill="#440154"/>
<rect x="331.39" y="161.28" width="3.47" height="1.92" fill="#2aae7f"/>
<rect x="331.39" y="163.2" width="3.47" height="1.92" fill="#88d048"/>
<rect x="331.39" y="167.04" width="3.47" height="1.92" fill="#433b83"/>
<rect x="331.39" y="170.88" width="3.47" height="1.92" fill="#eff6d7"/>
<rect x="331.39" y="159.36" width="3.47" height="1.92" fill="#88d048"/>
<rect x="334.86" y="167.04" width="3.47" height="1.92" fill="#433b83"/>
<rect x="334.86" y="168.96" width="3.47" height="1.92" fill="#440154"/>
<rect x="334.86" y="163.2" width="3.47" height="1.92" fill="#88d048"/>
<rect x="334.86" y="165.12" width="3.47" height="1.92" fill="#472876"/>
<rect x="334.86" y="170.88" width="3.47" height="1.92" fill="#d7eaa4"/>
<rect x="334.86" y="161.28" width="3.47" height="1.92" fill="#eff6d7"/>
<rect x="338.32" y="168.96" width="3.47" height="1.92" fill="#440154"/>
<rect x="338.32" y="170.88" width="3.47" height="1.92" fill="#471265"/>
<rect x="338.32" y="167.04" width="3.47" height="1.92" fill="#440154"/>
<rect x="338.32" y="172.8" width="3.47" height="1.92" fill="#d7eaa4"/>
<rect x="338.32" y="165.12" width="3.47" height="1.92" fill="#eff6d7"/>
<rect x="341.79" y="172.8" width="3.47" height="1.92" fill="#440154"/>
<rect x="341.79" y="176.64" width="3.47" height="1.92" fill="#d7eaa4"/>
<rect x="341.79" y="174.72" width="3.47" height="1.92" fill="#440154"/>
<rect x="341.79" y="170.88" width="3.47" height="1.92" fill="#433b83"/>
<rect x="345.26" y="180.48" width="3.47" height="1.92" fill="#440154"/>
<rect x="345.26" y="176.64" width="3.47" height="1.92" fill="#440154"/>
<rect x="345.26" y="178.56" width="3.47" height="1.92" fill="#471265"/>
<rect x="345.26" y="182.4" width="3.47" height="1.92" fill="#eff6d7"/>
<rect x="348.73" y="186.24" width="3.47" height="1.92" fill="#440154"/>
<rect x="348.73" y="188.16" width="3.47" height="1.92" fill="#2aae7f"/>
<rect x="348.73" y="184.32" width="3.47" height="1.92" fill="#440154"/>
<rect x="348.73" y="182.4" width="3.47" height="1.92" fill="#2aae7f"/>
<rect x="352.2" y="195.84" width="3.47" height="1.92" fill="#472876"/>
<rect x="352.2" y="193.92" width="3.47" height="1.92" fill="#471265"/>
<rect x="352.2" y="192" width="3.47" height="1.92" fill="#433b83"/>
<rect x="352.2" y="190.08" width="3.47" height="1.92" fill="#88d048"/>
<rect x="352.2" y="197.76" width="3.47" height="1.92" fill="#2aae7f"/>
<rect x="355.66" y="205.44" width="3.47" height="1.92" fill="#471265"/>
<rect x="355.66" y="207.36" width="3.47" height="1.92" fill="#433b83"/>
<rect x="355.66" y="201.6" width="3.47" height="1.92" fill="#472876"/>
<rect x="355.66" y="203.52" width="3.47" height="1.92" fill="#3c518b"/>
<rect x="359.13" y="213.12" width="3.47" height="1.92" fill="#440154"/>
<rect x="359.13" y="215.04" width="3.47" height="1.92" fill="#3c518b"/>
<rect x="359.13" y="211.2" width="3.47" height="1.92" fill="#31688d"/>
<rect x="359.13" y="216.96" width="3.47" height="1.92" fill="#31688d"/>
<rect x="359.13" y="209.28" width="3.47" height="1.92" fill="#88d048"/>
<rect x="362.6" y="220.8" width="3.47" height="1.92" fill="#433b83"/>
<rect x="362.6" y="222.72" width="3.47" height="1.92" fill="#433b83"/>
<rect x="362.6" y="216.96" width="3.47" height="1.92" fill="#31688d"/>
<rect x="362.6" y="218.88" width="3.47" height="1.92" fill="#440154"/>
<rect x="362.6" y="215.04" width="3.47" height="1.92" fill="#eff6d7"/>
<rect x="366.07" y="222.72" width="3.47" height="1.92" fill="#440154"/>
<rect x="366.07" y="226.56" width="3.47" height="1.92" fill="#54c567"/>
<rect x="366.07" y="224.64" width="3.47" height="1.92" fill="#440154"/>
<rect x="366.07" y="218.88" width="3.47" height="1.92" fill="#b0dc6a"/>
<rect x="366.07" y="220.8" width="3.47" height="1.92" fill="#b0dc6a"/>
<rect x="366.07" y="216.96" width="3.47" height="1.92" fill="#eff6d7"/>
<rect x="369.54" y="224.64" width="3.47" height="1.92" fill="#440154"/>
<rect x="369.54" y="226.56" width="3.47" height="1.92" fill="#20948b"/>
<rect x="369.54" y="218.88" width="3.47" height="1.92" fill="#88d048"/>
<rect x="369.54" y="222.72" width="3.47" height="1.92" fill="#31688d"/>
<rect x="369.54" y="228.48" width="3.47" height="1.92" fill="#d7eaa4"/>
<rect x="369.54" y="220.8" width="3.47" height="1.92" fill="#b0dc6a"/>
<rect x="373" y="224.64" width="3.47" height="1.92" fill="#440154"/>
<rect x="373" y="226.56" width="3.47" height="1.92" fill="#472876"/>
<rect x="373" y="218.88" width="3.47" height="1.92" fill="#d7eaa4"/>
<rect x="373" y="222.72" width="3.47" height="1.92" fill="#277e8e"/>
<rect x="373" y="230.4" width="3.47" height="1.92" fill="#b0dc6a"/>
<rect x="373" y="216.96" width="3.47" height="1.92" fill="#eff6d7"/>
<rect x="373" y="220.8" width="3.47" height="1.92" fill="#b0dc6a"/>
<rect x="376.47" y="224.64" width="3.47" height="1.92" fill="#440154"/>
<rect x="376.47" y="226.56" width="3.47" height="1.92" fill="#440154"/>
<rect x="376.47" y="218.88" width="3.47" height="1.92" fill="#d7eaa4"/>
<rect x="376.47" y="232.32" width="3.47" height="1.92" fill="#d7eaa4"/>
<rect x="376.47" y="222.72" width="3.47" height="1.92" fill="#2aae7f"/>
<rect x="376.47" y="220.8" width="3.47" height="1.92" fill="#eff6d7"/>
<rect x="376.47" y="230.4" width="3.47" height="1.92" fill="#eff6d7"/>
<rect x="379.94" y="222.72" width="3.47" height="1.92" fill="#54c567"/>
<rect x="379.94" y="226.56" width="3.47" height="1.92" fill="#472876"/>
<rect x="379.94" y="228.48" width="3.47" height="1.92" fill="#277e8e"/>
<rect x="379.94" y="220.8" width="3.47" height="1.92" fill="#d7eaa4"/>
<rect x="379.94" y="224.64" width="3.47" height="1.92" fill="#2aae7f"/>
<rect x="379.94" y="234.24" width="3.47" height="1.92" fill="#d7eaa4"/>
<rect x="379.94" y="230.4" width="3.47" height="1.92" fill="#2aae7f"/>
<rect x="379.94" y="218.88" width="3.47" height="1.92" fill="#d7eaa4"/>
<rect x="379.94" y="232.32" width="3.47" height="1.92" fill="#b0dc6a"/>
<rect x="383.41" y="222.72" width="3.47" height="1.92" fill="#d7eaa4"/>
<rect x="383.41" y="228.48" width="3.47" height="1.92" fill="#440154"/>
<rect x="383.41" y="226.56" width="3.47" height="1.92" fill="#20948b"/>
<rect x="383.41" y="218.88" width="3.47" height="1.92" fill="#eff6d7"/>
<rect x="383.41" y="230.4" width="3.47" height="1.92" fill="#54c567"/>
<rect x="383.41" y="232.32" width="3.47" height="1.92" fill="#54c567"/>
<rect x="383.41" y="236.16" width="3.47" height="1.92" fill="#eff6d7"/>
<rect x="383.41" y="224.64" width="3.47" height="1.92" fill="#d7eaa4"/>
<rect x="383.41" y="220.8" width="3.47" height="1.92" fill="#54c567"/>
<rect x="383.41" y="234.24" width="3.47" height="1.92" fill="#88d048"/>
<rect x="386.88" y="224.64" width="3.47" height="1.92" fill="#20948b"/>
<rect x="386.88" y="230.4" width="3.47" height="1.92" fill="#20948b"/>
<rect x="386.88" y="218.88" width="3.47" height="1.92" fill="#d7eaa4"/>
<rect x="386.88" y="226.56" width="3.47" height="1.92" fill="#b0dc6a"/>
<rect x="386.88" y="228.48" width="3.47" height="1.92" fill="#3c518b"/>
<rect x="386.88" y="240" width="3.47" height="1.92" fill="#d7eaa4"/>
<rect x="386.88" y="234.24" width="3.47" height="1.92" fill="#b0dc6a"/>
<rect x="386.88" y="236.16" width="3.47" height="1.92" fill="#88d048"/>
<rect x="386.88" y="232.32" width="3.47" height="1.92" fill="#54c567"/>
<rect x="386.88" y="238.08" width="3.47" height="1.92" fill="#d7eaa4"/>
<rect x="386.88" y="222.72" width="3.47" height="1.92" fill="#eff6d7"/>
<rect x="390.34" y="222.72" width="3.47" height="1.92" fill="#b0dc6a"/>
<rect x="390.34" y="232.32" width="3.47" height="1.92" fill="#54c567"/>
<rect x="390.34" y="224.64" width="3.47" height="1.92" fill="#b0dc6a"/>
<rect x="390.34" y="218.88" width="3.47" height="1.92" fill="#d7eaa4"/>
<rect x="390.34" y="230.4" width="3.47" height="1.92" fill="#277e8e"/>
<rect x="390.34" y="238.08" width="3.47" height="1.92" fill="#54c567"/>
<rect x="390.34" y="241.92" width="3.47" height="1.92" fill="#88d048"/>
<rect x="390.34" y="220.8" width="3.47" height="1.92" fill="#eff6d7"/>
<rect x="390.34" y="236.16" width="3.47" height="1.92" fill="#88d048"/>
<rect x="390.34" y="226.56" width="3.47" height="1.92" fill="#b0dc6a"/>
<rect x="390.34" y="234.24" width="3.47" height="1.92" fill="#b0dc6a"/>
<rect x="390.34" y="240" width="3.47" height="1.92" fill="#d7eaa4"/>
<rect x="390.34" y="228.48" width="3.47" height="1.92" fill="#b0dc6a"/>
<rect x="393.81" y="218.88" width="3.47" height="1.92" fill="#d7eaa4"/>
<rect x="393.81" y="224.64" width="3.47" height="1.92" fill="#2aae7f"/>
<rect x="393.81" y="234.24" width="3.47" height="1.92" fill="#88d048"/>
<rect x="393.81" y="216.96" width="3.47" height="1.92" fill="#eff6d7"/>
<rect x="393.81" y="232.32" width="3.47" height="1.92" fill="#54c567"/>
<rect x="393.81" y="222.72" width="3.47" height="1.92" fill="#88d048"/>
<rect x="393.81" y="230.4" width="3.47" height="1.92" fill="#277e8e"/>
<rect x="393.81" y="228.48" width="3.47" height="1.92" fill="#b0dc6a"/>
<rect x="393.81" y="238.08" width="3.47" height="1.92" fill="#b0dc6a"/>
<rect x="393.81" y="236.16" width="3.47" height="1.92" fill="#88d048"/>
<rect x="393.81" y="226.56" width="3.47" height="1.92" fill="#d7eaa4"/>
<rect x="393.81" y="241.92" width="3.47" height="1.92" fill="#d7eaa4"/>
<rect x="393.81" y="240" width="3.47" height="1.92" fill="#d7eaa4"/>
<rect x="397.28" y="220.8" width="3.47" height="1.92" fill="#b0dc6a"/>
<rect x="397.28" y="224.64" width="3.47" height="1.92" fill="#54c567"/>
<rect x="397.28" y="228.48" width="3.47" height="1.92" fill="#2aae7f"/>
<rect x="397.28" y="222.72" width="3.47" height="1.92" fill="#b0dc6a"/>
<rect x="397.28" y="218.88" width="3.47" height="1.92" fill="#d7eaa4"/>
<rect x="397.28" y="238.08" width="3.47" height="1.92" fill="#b0dc6a"/>
<rect x="397.28" y="226.56" width="3.47" height="1.92" fill="#2aae7f"/>
<rect x="397.28" y="236.16" width="3.47" height="1.92" fill="#88d048"/>
<rect x="397.28" y="232.32" width="3.47" height="1.92" fill="#88d048"/>
<rect x="397.28" y="216.96" width="3.47" height="1.92" fill="#eff6d7"/>
<rect x="397.28" y="234.24" width="3.47" height="1.92" fill="#88d048"/>
<rect x="397.28" y="241.92" width="3.47" height="1.92" fill="#d7eaa4"/>
<rect x="397.28" y="240" width="3.47" height="1.92" fill="#eff6d7"/>
<rect x="397.28" y="230.4" width="3.47" height="1.92" fill="#d7eaa4"/>
<rect x="400.75" y="220.8" width="3.47" height="1.92" fill="#54c567"/>
<rect x="400.75" y="218.88" width="3.47" height="1.92" fill="#2aae7f"/>
<rect x="400.75" y="226.56" width="3.47" height="1.92" fill="#88d048"/>
<rect x="400.75" y="230.4" width="3.47" height="1.92" fill="#88d048"/>
<rect x="400.75" y="216.96" width="3.47" height="1.92" fill="#b0dc6a"/>
<rect x="400.75" y="228.48" width="3.47" height="1.92" fill="#2aae7f"/>
<rect x="400.75" y="224.64" width="3.47" height="1.92" fill="#b0dc6a"/>
<rect x="400.75" y="232.32" width="3.47" height="1.92" fill="#54c567"/>
<rect x="400.75" y="222.72" width="3.47" height="1.92" fill="#88d048"/>
<rect x="400.75" y="238.08" width="3.47" height="1.92" fill="#d7eaa4"/>
<rect x="400.75" y="234.24" width="3.47" height="1.92" fill="#d7eaa4"/>
<rect x="400.75" y="236.16" width="3.47" height="1.92" fill="#d7eaa4"/>
<rect x="404.22" y="216.96" width="3.47" height="1.92" fill="#54c567"/>
<rect x="404.22" y="222.72" width="3.47" height="1.92" fill="#2aae7f"/>
<rect x="404.22" y="220.8" width="3.47" height="1.92" fill="#88d048"/>
<rect x="404.22" y="224.64" width="3.47" height="1.92" fill="#54c567"/>
<rect x="404.22" y="215.04" width="3.47" height="1.92" fill="#d7eaa4"/>
<rect x="404.22" y="226.56" width="3.47" height="1.92" fill="#277e8e"/>
<rect x="404.22" y="218.88" width="3.47" height="1.92" fill="#2aae7f"/>
<rect x="404.22" y="232.32" width="3.47" height="1.92" fill="#b0dc6a"/>
<rect x="404.22" y="230.4" width="3.47" height="1.92" fill="#eff6d7"/>
<rect x="404.22" y="236.16" width="3.47" height="1.92" fill="#b0dc6a"/>
<rect x="404.22" y="234.24" width="3.47" height="1.92" fill="#b0dc6a"/>
<rect x="407.68" y="215.04" width="3.47" height="1.92" fill="#54c567"/>
<rect x="407.68" y="224.64" width="3.47" height="1.92" fill="#277e8e"/>
<rect x="407.68" y="213.12" width="3.47" height="1.92" fill="#d7eaa4"/>
<rect x="407.68" y="228.48" width="3.47" height="1.92" fill="#b0dc6a"/>
<rect x="407.68" y="216.96" width="3.47" height="1.92" fill="#20948b"/>
<rect x="407.68" y="218.88" width="3.47" height="1.92" fill="#b0dc6a"/>
<rect x="407.68" y="226.56" width="3.47" height="1.92" fill="#d7eaa4"/>
<rect x="407.68" y="234.24" width="3.47" height="1.92" fill="#eff6d7"/>
<rect x="407.68" y="230.4" width="3.47" height="1.92" fill="#2aae7f"/>
<rect x="407.68" y="220.8" width="3.47" height="1.92" fill="#d7eaa4"/>
<rect x="407.68" y="232.32" width="3.47" height="1.92" fill="#88d048"/>
<rect x="407.68" y="222.72" width="3.47" height="1.92" fill="#b0dc6a"/>
<rect x="411.15" y="216.96" width="3.47" height="1.92" fill="#2aae7f"/>
<rect x="411.15" y="215.04" width="3.47" height="1.92" fill="#88d048"/>
<rect x="411.15" y="224.64" width="3.47" height="1.92" fill="#54c567"/>
<rect x="411.15" y="226.56" width="3.47" height="1.92" fill="#b0dc6a"/>
<rect x="411.15" y="213.12" width="3.47" height="1.92" fill="#b0dc6a"/>
<rect x="411.15" y="220.8" width="3.47" height="1.92" fill="#2aae7f"/>
<rect x="411.15" y="218.88" width="3.47" height="1.92" fill="#88d048"/>
<rect x="411.15" y="222.72" width="3.47" height="1.92" fill="#88d048"/>
<rect x="411.15" y="232.32" width="3.47" height="1.92" fill="#eff6d7"/>
<rect x="411.15" y="230.4" width="3.47" height="1.92" fill="#88d048"/>
<rect x="411.15" y="234.24" width="3.47" height="1.92" fill="#d7eaa4"/>
<rect x="411.15" y="211.2" width="3.47" height="1.92" fill="#88d048"/>
<rect x="414.62" y="215.04" width="3.47" height="1.92" fill="#20948b"/>
<rect x="414.62" y="211.2" width="3.47" height="1.92" fill="#20948b"/>
<rect x="414.62" y="218.88" width="3.47" height="1.92" fill="#31688d"/>
<rect x="414.62" y="222.72" width="3.47" height="1.92" fill="#2aae7f"/>
<rect x="414.62" y="213.12" width="3.47" height="1.92" fill="#d7eaa4"/>
<rect x="414.62" y="216.96" width="3.47" height="1.92" fill="#88d048"/>
<rect x="414.62" y="228.48" width="3.47" height="1.92" fill="#88d048"/>
<rect x="414.62" y="226.56" width="3.47" height="1.92" fill="#b0dc6a"/>
<rect x="414.62" y="220.8" width="3.47" height="1.92" fill="#eff6d7"/>
<rect x="414.62" y="209.28" width="3.47" height="1.92" fill="#eff6d7"/>
<rect x="414.62" y="230.4" width="3.47" height="1.92" fill="#eff6d7"/>
<rect x="414.62" y="224.64" width="3.47" height="1.92" fill="#eff6d7"/>
<rect x="418.09" y="220.8" width="3.47" height="1.92" fill="#54c567"/>
<rect x="418.09" y="213.12" width="3.47" height="1.92" fill="#20948b"/>
<rect x="418.09" y="226.56" width="3.47" height="1.92" fill="#54c567"/>
<rect x="418.09" y="224.64" width="3.47" height="1.92" fill="#b0dc6a"/>
<rect x="418.09" y="222.72" width="3.47" height="1.92" fill="#88d048"/>
<rect x="418.09" y="215.04" width="3.47" height="1.92" fill="#31688d"/>
<rect x="418.09" y="216.96" width="3.47" height="1.92" fill="#88d048"/>
<rect x="418.09" y="228.48" width="3.47" height="1.92" fill="#d7eaa4"/>
<rect x="418.09" y="211.2" width="3.47" height="1.92" fill="#eff6d7"/>
<rect x="418.09" y="218.88" width="3.47" height="1.92" fill="#d7eaa4"/>
<rect x="418.09" y="209.28" width="3.47" height="1.92" fill="#88d048"/>
<rect x="421.56" y="215.04" width="3.47" height="1.92" fill="#277e8e"/>
<rect x="421.56" y="220.8" width="3.47" height="1.92" fill="#eff6d7"/>
<rect x="421.56" y="224.64" width="3.47" height="1.92" fill="#2aae7f"/>
<rect x="421.56" y="213.12" width="3.47" height="1.92" fill="#20948b"/>
<rect x="421.56" y="216.96" width="3.47" height="1.92" fill="#54c567"/>
<rect x="421.56" y="211.2" width="3.47" height="1.92" fill="#277e8e"/>
<rect x="421.56" y="209.28" width="3.47" height="1.92" fill="#eff6d7"/>
<rect x="421.56" y="226.56" width="3.47" height="1.92" fill="#eff6d7"/>
<rect x="421.56" y="222.72" width="3.47" height="1.92" fill="#b0dc6a"/>
<rect x="421.56" y="218.88" width="3.47" height="1.92" fill="#d7eaa4"/>
<rect x="421.56" y="207.36" width="3.47" height="1.92" fill="#88d048"/>
<rect x="425.02" y="216.96" width="3.47" height="1.92" fill="#20948b"/>
<rect x="425.02" y="209.28" width="3.47" height="1.92" fill="#277e8e"/>
<rect x="425.02" y="224.64" width="3.47" height="1.92" fill="#b0dc6a"/>
<rect x="425.02" y="222.72" width="3.47" height="1.92" fill="#d7eaa4"/>
<rect x="425.02" y="215.04" width="3.47" height="1.92" fill="#20948b"/>
<rect x="425.02" y="213.12" width="3.47" height="1.92" fill="#54c567"/>
<rect x="425.02" y="211.2" width="3.47" height="1.92" fill="#88d048"/>
<rect x="425.02" y="207.36" width="3.47" height="1.92" fill="#b0dc6a"/>
<rect x="425.02" y="220.8" width="3.47" height="1.92" fill="#88d048"/>
<rect x="425.02" y="205.44" width="3.47" height="1.92" fill="#b0dc6a"/>
<rect x="428.49" y="211.2" width="3.47" height="1.92" fill="#b0dc6a"/>
<rect x="428.49" y="222.72" width="3.47" height="1.92" fill="#b0dc6a"/>
<rect x="428.49" y="216.96" width="3.47" height="1.92" fill="#d7eaa4"/>
<rect x="428.49" y="209.28" width="3.47" height="1.92" fill="#2aae7f"/>
<rect x="428.49" y="218.88" width="3.47" height="1.92" fill="#54c567"/>
<rect x="428.49" y="215.04" width="3.47" height="1.92" fill="#b0dc6a"/>
<rect x="428.49" y="205.44" width="3.47" height="1.92" fill="#20948b"/>
<rect x="428.49" y="213.12" width="3.47" height="1.92" fill="#31688d"/>
<rect x="428.49" y="220.8" width="3.47" height="1.92" fill="#54c567"/>
<rect x="428.49" y="207.36" width="3.47" height="1.92" fill="#d7eaa4"/>
<rect x="428.49" y="203.52" width="3.47" height="1.92" fill="#eff6d7"/>
<rect x="431.96" y="216.96" width="3.47" height="1.92" fill="#2aae7f"/>
<rect x="431.96" y="211.2" width="3.47" height="1.92" fill="#b0dc6a"/>
<rect x="431.96" y="220.8" width="3.47" height="1.92" fill="#b0dc6a"/>
<rect x="431.96" y="215.04" width="3.47" height="1.92" fill="#54c567"/>
<rect x="431.96" y="207.36" width="3.47" height="1.92" fill="#433b83"/>
<rect x="431.96" y="218.88" width="3.47" height="1.92" fill="#d7eaa4"/>
<rect x="431.96" y="203.52" width="3.47" height="1.92" fill="#88d048"/>
<rect x="431.96" y="213.12" width="3.47" height="1.92" fill="#2aae7f"/>
<rect x="431.96" y="209.28" width="3.47" height="1.92" fill="#88d048"/>
<rect x="431.96" y="205.44" width="3.47" height="1.92" fill="#d7eaa4"/>
<rect x="435.43" y="211.2" width="3.47" height="1.92" fill="#2aae7f"/>
<rect x="435.43" y="216.96" width="3.47" height="1.92" fill="#88d048"/>
<rect x="435.43" y="218.88" width="3.47" height="1.92" fill="#b0dc6a"/>
<rect x="435.43" y="205.44" width="3.47" height="1.92" fill="#20948b"/>
<rect x="435.43" y="213.12" width="3.47" height="1.92" fill="#b0dc6a"/>
<rect x="435.43" y="203.52" width="3.47" height="1.92" fill="#54c567"/>
<rect x="435.43" y="207.36" width="3.47" height="1.92" fill="#277e8e"/>
<rect x="435.43" y="209.28" width="3.47" height="1.92" fill="#277e8e"/>
<rect x="435.43" y="215.04" width="3.47" height="1.92" fill="#d7eaa4"/>
<rect x="438.9" y="215.04" width="3.47" height="1.92" fill="#b0dc6a"/>
<rect x="438.9" y="211.2" width="3.47" height="1.92" fill="#20948b"/>
<rect x="438.9" y="216.96" width="3.47" height="1.92" fill="#d7eaa4"/>
<rect x="438.9" y="209.28" width="3.47" height="1.92" fill="#20948b"/>
<rect x="438.9" y="205.44" width="3.47" height="1.92" fill="#2aae7f"/>
<rect x="438.9" y="201.6" width="3.47" height="1.92" fill="#b0dc6a"/>
<rect x="438.9" y="207.36" width="3.47" height="1.92" fill="#20948b"/>
<rect x="438.9" y="203.52" width="3.47" height="1.92" fill="#20948b"/>
<rect x="438.9" y="213.12" width="3.47" height="1.92" fill="#b0dc6a"/>
<rect x="438.9" y="199.68" width="3.47" height="1.92" fill="#eff6d7"/>
<rect x="442.36" y="213.12" width="3.47" height="1.92" fill="#54c567"/>
<rect x="442.36" y="209.28" width="3.47" height="1.92" fill="#277e8e"/>
<rect x="442.36" y="215.04" width="3.47" height="1.92" fill="#eff6d7"/>
<rect x="442.36" y="207.36" width="3.47" height="1.92" fill="#2aae7f"/>
<rect x="442.36" y="201.6" width="3.47" height="1.92" fill="#20948b"/>
<rect x="442.36" y="203.52" width="3.47" height="1.92" fill="#2aae7f"/>
<rect x="442.36" y="211.2" width="3.47" height="1.92" fill="#54c567"/>
<rect x="442.36" y="205.44" width="3.47" height="1.92" fill="#20948b"/>
<rect x="442.36" y="199.68" width="3.47" height="1.92" fill="#eff6d7"/>
<rect x="445.83" y="211.2" width="3.47" height="1.92" fill="#54c567"/>
<rect x="445.83" y="205.44" width="3.47" height="1.92" fill="#31688d"/>
<rect x="445.83" y="207.36" width="3.47" height="1.92" fill="#3c518b"/>
<rect x="445.83" y="203.52" width="3.47" height="1.92" fill="#54c567"/>
<rect x="445.83" y="197.76" width="3.47" height="1.92" fill="#b0dc6a"/>
<rect x="445.83" y="209.28" width="3.47" height="1.92" fill="#2aae7f"/>
<rect x="445.83" y="201.6" width="3.47" height="1.92" fill="#88d048"/>
<rect x="445.83" y="199.68" width="3.47" height="1.92" fill="#b0dc6a"/>
<rect x="445.83" y="213.12" width="3.47" height="1.92" fill="#eff6d7"/>
<rect x="449.3" y="209.28" width="6.94" height="1.92" fill="#2aae7f"/>
<rect x="449.3" y="207.36" width="6.94" height="1.92" fill="#2aae7f"/>
<rect x="449.3" y="201.6" width="6.94" height="1.92" fill="#3c518b"/>
<rect x="449.3" y="199.68" width="6.94" height="1.92" fill="#277e8e"/>
<rect x="449.3" y="203.52" width="6.94" height="1.92" fill="#20948b"/>
<rect x="449.3" y="197.76" width="6.94" height="1.92" fill="#d7eaa4"/>
<rect x="449.3" y="205.44" width="6.94" height="1.92" fill="#54c567"/>
<rect x="449.3" y="211.2" width="6.94" height="1.92" fill="#d7eaa4"/>
<rect x="456.24" y="207.36" width="6.94" height="1.92" fill="#20948b"/>
<rect x="456.24" y="203.52" width="6.94" height="1.92" fill="#277e8e"/>
<rect x="456.24" y="201.6" width="6.94" height="1.92" fill="#31688d"/>
<rect x="456.24" y="199.68" width="6.94" height="1.92" fill="#2aae7f"/>
<rect x="456.24" y="197.76" width="6.94" height="1.92" fill="#20948b"/>
<rect x="456.24" y="205.44" width="6.94" height="1.92" fill="#20948b"/>
<rect x="456.24" y="195.84" width="6.94" height="1.92" fill="#eff6d7"/>
<rect x="456.24" y="209.28" width="6.94" height="1.92" fill="#eff6d7"/>
<rect x="463.17" y="201.6" width="6.94" height="1.92" fill="#277e8e"/>
<rect x="463.17" y="203.52" width="6.94" height="1.92" fill="#20948b"/>
<rect x="463.17" y="205.44" width="6.94" height="1.92" fill="#54c567"/>
<rect x="463.17" y="195.84" width="6.94" height="1.92" fill="#54c567"/>
<rect x="463.17" y="197.76" width="6.94" height="1.92" fill="#31688d"/>
<rect x="463.17" y="199.68" width="6.94" height="1.92" fill="#472876"/>
<rect x="470.11" y="203.52" width="6.94" height="1.92" fill="#20948b"/>
<rect x="470.11" y="201.6" width="6.94" height="1.92" fill="#20948b"/>
<rect x="470.11" y="195.84" width="6.94" height="1.92" fill="#3c518b"/>
<rect x="470.11" y="193.92" width="6.94" height="1.92" fill="#277e8e"/>
<rect x="470.11" y="197.76" width="6.94" height="1.92" fill="#277e8e"/>
<rect x="470.11" y="192" width="6.94" height="1.92" fill="#eff6d7"/>
<rect x="470.11" y="199.68" width="6.94" height="1.92" fill="#88d048"/>
<rect x="470.11" y="205.44" width="6.94" height="1.92" fill="#eff6d7"/>
<rect x="477.04" y="186.24" width="13.87" height="1.92" fill="#cfe695"/>
<rect x="477.04" y="188.16" width="13.87" height="1.92" fill="#2baf7f"/>
<rect x="477.04" y="190.08" width="13.87" height="1.92" fill="#33638d"/>
<rect x="477.04" y="192" width="13.87" height="1.92" fill="#3d4e8a"/>
<rect x="477.04" y="193.92" width="13.87" height="1.92" fill="#25838e"/>
<rect x="477.04" y="195.84" width="13.87" height="1.92" fill="#a7d960"/>
<rect x="477.04" y="197.76" width="13.87" height="1.92" fill="#cfe695"/>
<rect x="490.92" y="180.48" width="13.87" height="1.92" fill="#f1f7db"/>
<rect x="490.92" y="182.4" width="13.87" height="1.92" fill="#badf79"/>
<rect x="490.92" y="184.32" width="13.87" height="1.92" fill="#1f968b"/>
<rect x="490.92" y="186.24" width="13.87" height="1.92" fill="#3d4e8a"/>
<rect x="490.92" y="188.16" width="13.87" height="1.92" fill="#33638d"/>
<rect x="490.92" y="190.08" width="13.87" height="1.92" fill="#1f968b"/>
<rect x="490.92" y="192" width="13.87" height="1.92" fill="#3bba75"/>
<rect x="490.92" y="193.92" width="13.87" height="1.92" fill="#96d24c"/>
<rect x="504.79" y="174.72" width="17.34" height="1.92" fill="#e6f2c4"/>
<rect x="504.79" y="176.64" width="17.34" height="1.92" fill="#33638d"/>
<rect x="504.79" y="178.56" width="17.34" height="1.92" fill="#1f968b"/>
<rect x="504.79" y="180.48" width="17.34" height="1.92" fill="#443b83"/>
<rect x="504.79" y="182.4" width="17.34" height="1.92" fill="#51c369"/>
<rect x="504.79" y="184.32" width="17.34" height="1.92" fill="#badf79"/>
<rect x="504.79" y="186.24" width="17.34" height="1.92" fill="#dbecad"/>
<rect x="504.79" y="188.16" width="17.34" height="1.92" fill="#e6f2c4"/>
</g>
<path d="M105.5 48V336M121.5 48V336M132.5 48V336M141.5 48V336M149.5 48V336M155.5 48V336M160.5 48V336M165.5 48V336M169.5 48V336M197.5 48V336M213.5 48V336M224.5 48V336M233.5 48V336M241.5 48V336M247.5 48V336M252.5 48V336M257.5 48V336M261.5 48V336M289.5 48V336M305.5 48V336M317.5 48V336M326.5 48V336M333.5 48V336M339.5 48V336M344.5 48V336M349.5 48V336M353.5 48V336M381.5 48V336M397.5 48V336M409.5 48V336M418.5 48V336M425.5 48V336M431.5 48V336M437.5 48V336M441.5 48V336M445.5 48V336M473.5 48V336M489.5 48V336M501.5 48V336M510.5 48V336M517.5 48V336M523.5 48V336M529.5 48V336M533.5 48V336M76.8 298.5H537.6M76.8 259.5H537.6M76.8 221.5H537.6M76.8 182.5H537.6M76.8 144.5H537.6M76.8 106.5H537.6M76.8 67.5H537.6" stroke="#b0b0b0" stroke-width="1.11" fill="none"/>
<polyline clip-path="url(#axc)" points="103.4,199.6 118.5,197.5 121.9,193.5 132.25,197.9 141.6,201 149.75,203.25 156,204.5 166,204.7 176,205.3 188,206 200,204.1 205,202.9 214,203.25 222,203.75 232,204.1 240,203.25 246,201.6 250,200.4 256,197.9 258.5,196 268.5,189.75 281,181 293.5,171 302.25,164.75 307.25,162.25 312.25,161.4 317.25,161.6 323.5,164.1 327.5,164.6 333.75,165.9 338.75,169 343.75,174.6 348,181.5 351.25,187.75 354.4,196.5 357,204 359,210 362.75,218.75 366.5,223.1 372.75,224.4 380.25,225.6 386.5,229.4 392.1,231.25 397.75,230 404,226.9 411.5,222.5 419,218.75 421,216 433.5,212.25 444.75,207.25 451,204.1 462.25,202.5 469.75,199.75 476.5,196.4 479,192.75 489.6,192.75 492.75,189.4 501.5,189.4 507,181.9 521.3,181.9" fill="none" stroke="#000" stroke-width="2.08" stroke-linejoin="round" stroke-linecap="square"/>
<polyline clip-path="url(#axc)" points="168.96,274.56 190.2,272.06 224.45,272.06 252.19,276.86 269.73,266.3 296.16,237.31 319.5,222.91 325.54,222.91 332.83,238.08 353.28,266.5 360.58,271.1 371.08,263.23 384.66,292.8 399.33,307.2 413.48,312 431.16,312 445.84,307.2 462.72,307.2 492.98,312 517.15,306.05 629.76,243.65" fill="none" stroke="#666666" stroke-width="2.78" stroke-linejoin="round" stroke-linecap="square"/>
<polyline clip-path="url(#axc)" points="168.96,127.68 200.52,139.01 215.51,164.16 252.19,182.4 314.55,140.16 322.2,137.28 334.79,145.92 343.85,169.92 370.56,182.4 381.02,217.92 496.13,193.92 629.76,105.79" fill="none" stroke="#666666" stroke-width="2.78" stroke-linejoin="round" stroke-linecap="square"/>
<path d="M77.5 336.5v5.1M169.5 336.5v5.1M261.5 336.5v5.1M353.5 336.5v5.1M445.5 336.5v5.1M538.5 336.5v5.1M77.5 336.5h-5.1M77.5 298.5h-5.1M77.5 259.5h-5.1M77.5 221.5h-5.1M77.5 182.5h-5.1M77.5 144.5h-5.1M77.5 106.5h-5.1M77.5 67.5h-5.1" stroke="#000" stroke-width="1.11" fill="none"/>
<path d="M105.5 336.5v2.78M121.5 336.5v2.78M132.5 336.5v2.78M141.5 336.5v2.78M149.5 336.5v2.78M155.5 336.5v2.78M160.5 336.5v2.78M165.5 336.5v2.78M197.5 336.5v2.78M213.5 336.5v2.78M224.5 336.5v2.78M233.5 336.5v2.78M241.5 336.5v2.78M247.5 336.5v2.78M252.5 336.5v2.78M257.5 336.5v2.78M289.5 336.5v2.78M305.5 336.5v2.78M317.5 336.5v2.78M326.5 336.5v2.78M333.5 336.5v2.78M339.5 336.5v2.78M344.5 336.5v2.78M349.5 336.5v2.78M381.5 336.5v2.78M397.5 336.5v2.78M409.5 336.5v2.78M418.5 336.5v2.78M425.5 336.5v2.78M431.5 336.5v2.78M437.5 336.5v2.78M441.5 336.5v2.78M473.5 336.5v2.78M489.5 336.5v2.78M501.5 336.5v2.78M510.5 336.5v2.78M517.5 336.5v2.78M523.5 336.5v2.78M529.5 336.5v2.78M533.5 336.5v2.78" stroke="#000" stroke-width="0.83" fill="none"/>
<rect x="77.5" y="48.5" width="461" height="288" fill="none" stroke="#000" stroke-width="1.11"/>
<g shape-rendering="crispEdges"><rect x="116.4" y="379.2" width="408" height="7.68" fill="#008000"/>
<rect x="116.4" y="386.88" width="398.65" height="11.52" fill="#0000ff"/></g>
<path d="M116.5 398.5v5.1M167.5 398.5v5.1M218.5 398.5v5.1M269.5 398.5v5.1M320.5 398.5v5.1M371.5 398.5v5.1M422.5 398.5v5.1M473.5 398.5v5.1M524.5 398.5v5.1" stroke="#000" stroke-width="1.11" fill="none"/>
<rect x="96.5" y="379.5" width="448" height="19" fill="none" stroke="#000" stroke-width="1.11"/>
<rect x="566.5" y="246.5" width="5" height="90" fill="url(#cb)"/>
<rect x="566.5" y="244.9" width="5" height="1.8" fill="#440154"/>
<rect x="566.5" y="246.5" width="5" height="90" fill="none" stroke="#000" stroke-width="1.11"/>
<path d="M581.1 336.5h5.2M581.1 321.5h5.2M581.1 306.5h5.2M581.1 291.5h5.2M581.1 276.5h5.2M581.1 261.5h5.2M581.1 246.5h5.2" stroke="#000" stroke-width="1.11" fill="none"/>
<g opacity="0.999"><text y="9.75" font-size="12.7"><tspan x="107.00" textLength="102.97" lengthAdjust="spacingAndGlyphs">BK.BK81.01.HHE</tspan><tspan x="222.89" textLength="71.64" lengthAdjust="spacingAndGlyphs">2021-12-13</tspan><tspan x="299.51" textLength="8.02" lengthAdjust="spacingAndGlyphs">--</tspan><tspan x="312.51" textLength="71.64" lengthAdjust="spacingAndGlyphs">2021-12-13</tspan><tspan x="393.10" textLength="39.90" lengthAdjust="spacingAndGlyphs">(46/46</tspan><tspan x="437.97" textLength="65.22" lengthAdjust="spacingAndGlyphs">segments)</tspan></text>
<text y="24.75" font-size="12.7"><tspan x="164.25" textLength="74.60" lengthAdjust="spacingAndGlyphs">sensor_type</tspan><tspan x="243.82" textLength="69.75" lengthAdjust="spacingAndGlyphs">CMG-3T-PH</tspan><tspan x="318.54" textLength="61.11" lengthAdjust="spacingAndGlyphs">sensor_sn</tspan><tspan x="384.62" textLength="65.42" lengthAdjust="spacingAndGlyphs">CMG3T-BV</tspan></text>
<text y="39.75" font-size="12.7"><tspan x="146.86" textLength="101.15" lengthAdjust="spacingAndGlyphs">datalogger_type</tspan><tspan x="252.98" textLength="64.85" lengthAdjust="spacingAndGlyphs">MINIMUS+</tspan><tspan x="322.81" textLength="87.66" lengthAdjust="spacingAndGlyphs">datalogger_sn</tspan><tspan x="415.44" textLength="52.00" lengthAdjust="spacingAndGlyphs">MINP-BV</tspan></text>
<text y="341.00" font-size="14.0"><tspan x="29.38" textLength="37.15" lengthAdjust="spacingAndGlyphs">−200</tspan></text>
<text y="303.00" font-size="14.0"><tspan x="29.38" textLength="37.15" lengthAdjust="spacingAndGlyphs">−180</tspan></text>
<text y="264.00" font-size="14.0"><tspan x="29.38" textLength="37.15" lengthAdjust="spacingAndGlyphs">−160</tspan></text>
<text y="226.00" font-size="14.0"><tspan x="29.38" textLength="37.15" lengthAdjust="spacingAndGlyphs">−140</tspan></text>
<text y="188.00" font-size="14.0"><tspan x="29.38" textLength="37.15" lengthAdjust="spacingAndGlyphs">−120</tspan></text>
<text y="150.00" font-size="14.0"><tspan x="29.38" textLength="37.15" lengthAdjust="spacingAndGlyphs">−100</tspan></text>
<text y="111.00" font-size="14.0"><tspan x="38.22" textLength="28.31" lengthAdjust="spacingAndGlyphs">−80</tspan></text>
<text y="73.00" font-size="14.0"><tspan x="38.22" textLength="28.31" lengthAdjust="spacingAndGlyphs">−60</tspan></text>
<text y="357.00" font-size="14.0"><tspan x="61.79" textLength="29.92" lengthAdjust="spacingAndGlyphs">0.01</tspan></text>
<text y="357.00" font-size="14.0"><tspan x="158.37" textLength="21.09" lengthAdjust="spacingAndGlyphs">0.1</tspan></text>
<text y="357.00" font-size="14.0"><tspan x="257.15" textLength="7.84" lengthAdjust="spacingAndGlyphs">1</tspan></text>
<text y="357.00" font-size="14.0"><tspan x="344.89" textLength="16.67" lengthAdjust="spacingAndGlyphs">10</tspan></text>
<text y="357.00" font-size="14.0"><tspan x="432.64" textLength="25.51" lengthAdjust="spacingAndGlyphs">100</tspan></text>
<text y="357.00" font-size="14.0"><tspan x="520.38" textLength="34.35" lengthAdjust="spacingAndGlyphs">1000</tspan></text>
<text y="375.40" font-size="14.0"><tspan x="274.50" textLength="42.80" lengthAdjust="spacingAndGlyphs">Period</tspan><tspan x="322.72" textLength="17.07" lengthAdjust="spacingAndGlyphs">[s]</tspan></text>
<text transform="translate(15.9 193.07) rotate(-90)" font-size="14.0"><tspan x="-76.33" textLength="42.49" lengthAdjust="spacingAndGlyphs">Power</tspan><tspan x="-29.43" textLength="5.42" lengthAdjust="spacingAndGlyphs">[</tspan><tspan x="-23.7" font-style="italic" textLength="12.9" lengthAdjust="spacingAndGlyphs">m</tspan><tspan dy="-4.7" font-size="10" textLength="6.2" lengthAdjust="spacingAndGlyphs">2</tspan><tspan dy="4.7" font-style="italic" textLength="11.9" lengthAdjust="spacingAndGlyphs">/s</tspan><tspan dy="-4.7" font-size="10" textLength="6.2" lengthAdjust="spacingAndGlyphs">4</tspan><tspan dy="4.7" font-style="italic" textLength="22.6" lengthAdjust="spacingAndGlyphs">/Hz</tspan><tspan x="37.31" textLength="5.42" lengthAdjust="spacingAndGlyphs">]</tspan><tspan x="47.14" textLength="29.18" lengthAdjust="spacingAndGlyphs">[dB]</tspan></text>
<text transform="translate(114.46 417.65) rotate(-30)" font-size="14.0"><tspan x="-62.00" textLength="39.36" lengthAdjust="spacingAndGlyphs">12-13</tspan><tspan x="-17.22" textLength="16.67" lengthAdjust="spacingAndGlyphs">00</tspan></text>
<text transform="translate(165.37 417.65) rotate(-30)" font-size="14.0"><tspan x="-62.00" textLength="39.36" lengthAdjust="spacingAndGlyphs">12-13</tspan><tspan x="-17.22" textLength="16.67" lengthAdjust="spacingAndGlyphs">03</tspan></text>
<text transform="translate(216.28 417.65) rotate(-30)" font-size="14.0"><tspan x="-62.00" textLength="39.36" lengthAdjust="spacingAndGlyphs">12-13</tspan><tspan x="-17.22" textLength="16.67" lengthAdjust="spacingAndGlyphs">06</tspan></text>
<text transform="translate(267.19 417.65) rotate(-30)" font-size="14.0"><tspan x="-62.00" textLength="39.36" lengthAdjust="spacingAndGlyphs">12-13</tspan><tspan x="-17.22" textLength="16.67" lengthAdjust="spacingAndGlyphs">09</tspan></text>
<text transform="translate(318.10 417.65) rotate(-30)" font-size="14.0"><tspan x="-62.00" textLength="39.36" lengthAdjust="spacingAndGlyphs">12-13</tspan><tspan x="-17.22" textLength="16.67" lengthAdjust="spacingAndGlyphs">12</tspan></text>
<text transform="translate(369.01 417.65) rotate(-30)" font-size="14.0"><tspan x="-62.00" textLength="39.36" lengthAdjust="spacingAndGlyphs">12-13</tspan><tspan x="-17.22" textLength="16.67" lengthAdjust="spacingAndGlyphs">15</tspan></text>
<text transform="translate(419.92 417.65) rotate(-30)" font-size="14.0"><tspan x="-62.00" textLength="39.36" lengthAdjust="spacingAndGlyphs">12-13</tspan><tspan x="-17.22" textLength="16.67" lengthAdjust="spacingAndGlyphs">18</tspan></text>
<text transform="translate(470.83 417.65) rotate(-30)" font-size="14.0"><tspan x="-62.00" textLength="39.36" lengthAdjust="spacingAndGlyphs">12-13</tspan><tspan x="-17.22" textLength="16.67" lengthAdjust="spacingAndGlyphs">21</tspan></text>
<text transform="translate(521.74 417.65) rotate(-30)" font-size="14.0"><tspan x="-62.00" textLength="39.36" lengthAdjust="spacingAndGlyphs">12-14</tspan><tspan x="-17.22" textLength="16.67" lengthAdjust="spacingAndGlyphs">00</tspan></text>
<text y="341.70" font-size="14.0"><tspan x="591.05" textLength="7.84" lengthAdjust="spacingAndGlyphs">0</tspan></text>
<text y="326.70" font-size="14.0"><tspan x="591.05" textLength="7.84" lengthAdjust="spacingAndGlyphs">5</tspan></text>
<text y="311.70" font-size="14.0"><tspan x="591.05" textLength="16.67" lengthAdjust="spacingAndGlyphs">10</tspan></text>
<text y="296.70" font-size="14.0"><tspan x="591.05" textLength="16.67" lengthAdjust="spacingAndGlyphs">15</tspan></text>
<text y="281.70" font-size="14.0"><tspan x="591.05" textLength="16.67" lengthAdjust="spacingAndGlyphs">20</tspan></text>
<text y="266.70" font-size="14.0"><tspan x="591.05" textLength="16.67" lengthAdjust="spacingAndGlyphs">25</tspan></text>
<text y="251.70" font-size="14.0"><tspan x="591.05" textLength="16.67" lengthAdjust="spacingAndGlyphs">30</tspan></text>
<text transform="translate(624.2 194.4) rotate(-90)" font-size="13.2" text-anchor="middle" textLength="22.8" lengthAdjust="spacingAndGlyphs">[%]</text></g>
</svg>
</body></html>
